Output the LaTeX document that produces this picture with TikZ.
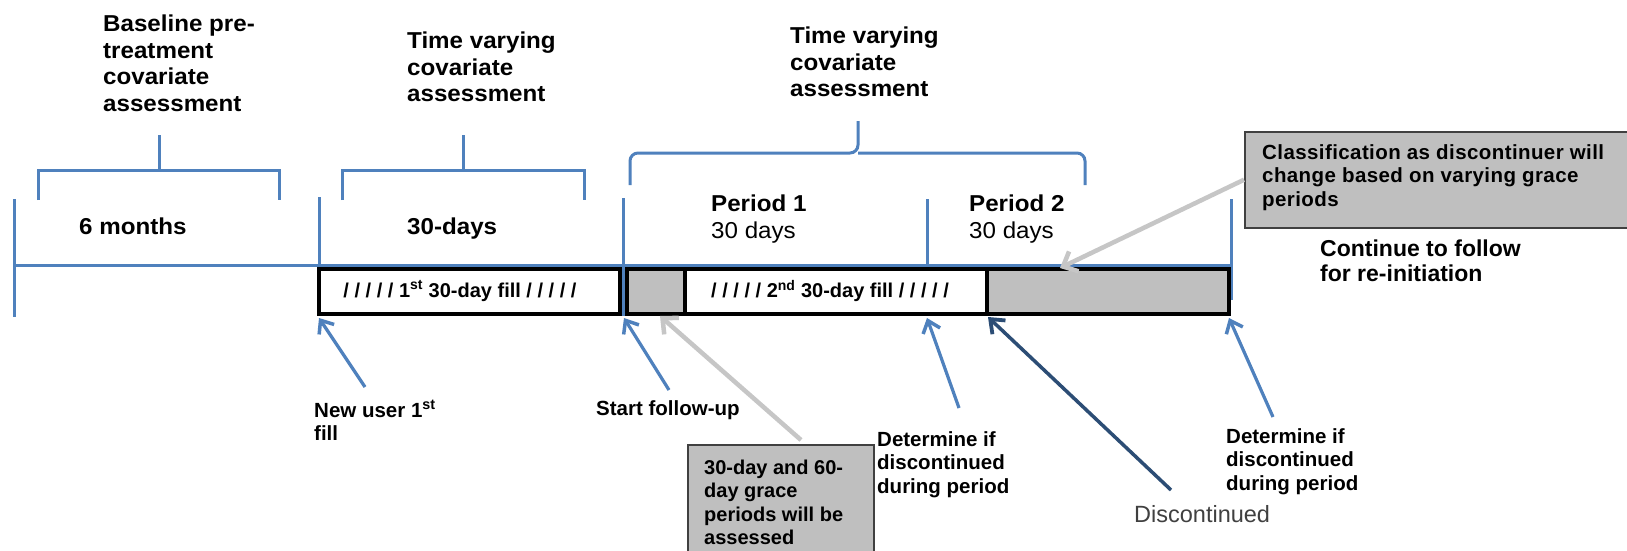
\documentclass[tikz,border=0pt]{standalone}
\usepackage{fontspec}
\setmainfont{Liberation Sans}
\newfontfamily\widefont{Liberation Sans}[LetterSpace=2]
\newfontfamily\hdrfont{Liberation Sans}[FakeStretch=1.05]
\usetikzlibrary{arrows.meta}
\definecolor{tlblue}{HTML}{4F81BD}
\definecolor{dkblue}{HTML}{2C4D75}
\definecolor{boxgray}{HTML}{BFBFBF}
\definecolor{arrgray}{HTML}{C6C6C6}
\definecolor{txtgray}{HTML}{404040}
\begin{document}
\begin{tikzpicture}[x=1pt,y=-1pt,
  blueln/.style={draw=tlblue,line width=3pt},
  ptr/.style={draw=tlblue,line width=3.2pt,-{Straight Barb[length=11pt,width=18pt,line width=3.5pt]}},
  dkptr/.style={draw=dkblue,line width=3.5pt,-{Straight Barb[length=12pt,width=19pt,line width=3.8pt]}},
  gptr/.style={draw=arrgray,line width=4.5pt,-{Straight Barb[length=12pt,width=22pt,line width=4.5pt]}},
  barbox/.style={draw=black,line width=4.5pt},
  hdr/.style={anchor=north west,inner sep=0pt,align=left,font=\fontsize{23}{26.5}\selectfont\hdrfont\bfseries},
  lbl/.style={anchor=north west,inner sep=0pt,align=left,font=\fontsize{20.5}{23.7}\selectfont\bfseries},
  bartxt/.style={inner sep=0pt,font=\fontsize{20}{24}\selectfont\bfseries},
  graybox/.style={draw=black!75,line width=1.5pt,fill=boxgray,anchor=north west,inner sep=0pt},
]
\fill[white] (0,0) rectangle (1627,551);
\useasboundingbox (0,0) rectangle (1627,551);

% headers
\node[hdr] (h1) at (103,15) {Baseline pre-\\treatment\\covariate\\assessment};
\node[hdr] (h2) at (407,32) {Time varying\\covariate\\assessment};
\node[hdr] (h3) at (790,27) {Time varying\\covariate\\assessment};

% brackets
\draw[blueln] (38.6,200) |- (279.5,170) -- (279.5,200);
\draw[blueln] (159.6,170) -- (159.6,135);
\draw[blueln] (342,200) |- (584,170) -- (584,200);
\draw[blueln] (463,170) -- (463,135);
\draw[blueln,rounded corners=8pt] (630,185) |- (858,153) -- (858,121);
\draw[blueln,rounded corners=8pt] (1085,185) |- (858,153);

% timeline and ticks
\draw[blueln] (14.5,199) -- (14.5,317);
\draw[blueln] (319,197) -- (319,315);
\draw[blueln] (623.5,198) -- (623.5,316);
\draw[blueln] (927.8,199) -- (927.8,300);
\draw[blueln] (1231,199) -- (1231,300);
\draw[blueln] (14.5,265) -- (1231,265);

% period labels
\node[hdr] (m6) at (79,218) {6 months};
\node[hdr] (d30) at (407,218) {30-days};
\node[hdr] (p1) at (711,195) {Period 1\\{\mdseries 30 days}};
\node[hdr] (p2) at (969,195) {Period 2\\{\mdseries 30 days}};

% bars
\draw[barbox,fill=white] (319,269) rectangle (620,314);
\node[bartxt] (fill1) at (460,291) {/ / / / / 1\textsuperscript{st} 30-day fill / / / / /};
\draw[barbox,fill=boxgray] (627,269) rectangle (1229,314);
\draw[barbox,fill=white] (685,269) rectangle (987,314);
\node[bartxt] (fill2) at (830,291) {/ / / / / 2\textsuperscript{nd} 30-day fill / / / / /};

% classification box
\node[graybox,minimum width=420pt,minimum height=96pt] (clsbox) at (1244,131) {};
\node[anchor=north west,inner sep=0pt,align=left,font=\fontsize{20.5}{23.5}\selectfont\widefont\bfseries] (cls) at (1262,144) {Classification as discontinuer will\\change based on varying grace\\periods};
\node[hdr,font=\fontsize{23}{24.5}\selectfont\bfseries] (cont) at (1320,240) {Continue to follow\\for re-initiation};

% grace box
\node[graybox,minimum width=186pt,minimum height=140pt] (gbox) at (687,444) {};
\node[lbl,font=\fontsize{20}{23.3}\selectfont\bfseries] (gtxt) at (704,460) {30-day and 60-\\day grace\\periods will be\\assessed};

% bottom labels
\node[lbl] (nu) at (314,400) {New user 1\textsuperscript{st}\\fill};
\node[lbl] (sf) at (596,400) {Start follow-up};
\node[lbl] (det1) at (877,431) {Determine if\\discontinued\\during period};
\node[lbl] (det2) at (1226,428) {Determine if\\discontinued\\during period};
\node[anchor=north west,inner sep=0pt,font=\fontsize{23.5}{26}\selectfont,text=txtgray] (disc) at (1134,505) {Discontinued};

% arrow endpoints
\coordinate (a1s) at (365,387); \coordinate (a1e) at (319,318);
\coordinate (a2s) at (669,390); \coordinate (a2e) at (624,318);
\coordinate (a3s) at (801,440); \coordinate (a3e) at (660,316);
\coordinate (a4s) at (959,408); \coordinate (a4e) at (927,318);
\coordinate (a5s) at (1171,490); \coordinate (a5e) at (988,317);
\coordinate (a6s) at (1273,417); \coordinate (a6e) at (1229,318);
\coordinate (a7e) at (1060,268);

\draw[ptr] (a1s) -- (a1e);
\draw[ptr] (a2s) -- (a2e);
\draw[gptr] (a3s) -- (a3e);
\draw[ptr] (a4s) -- (a4e);
\draw[dkptr] (a5s) -- (a5e);
\draw[ptr] (a6s) -- (a6e);
\draw[gptr] (clsbox.west) -- (a7e);
\end{tikzpicture}
\end{document}
